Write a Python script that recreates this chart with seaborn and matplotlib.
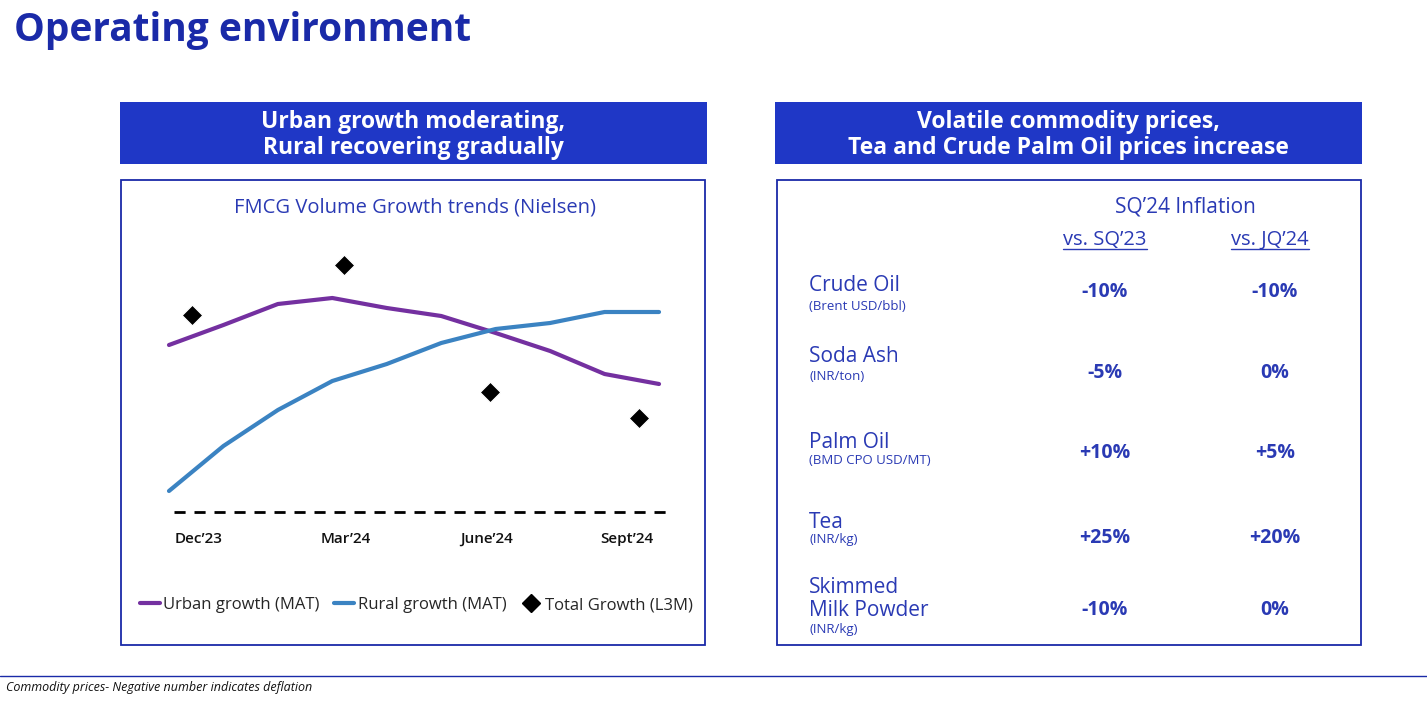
"""Operating environment slide: FMCG growth trends + commodity inflation table."""
import matplotlib
matplotlib.use('Agg')
import matplotlib.pyplot as plt
from matplotlib.patches import Rectangle
from matplotlib.lines import Line2D
import pandas as pd
import seaborn as sns

W, H = 1427, 709

# --- chart data (growth index; no axis scale shown) ---
period_idx = list(range(10))
urban_growth = [8.35, 9.35, 10.4, 10.7, 10.2, 9.8, 8.95, 8.05, 6.9, 6.4]
rural_growth = [1.05, 3.3, 5.1, 6.55, 7.4, 8.45, 9.15, 9.45, 10.0, 10.0]
total_x = [0.42, 3.21, 5.89, 8.64]
total_growth = [9.85, 12.35, 6.0, 4.7]
tick_pos = [0.55, 3.25, 5.83, 8.4]
tick_labels = ["Dec’23", "Mar’24", "June’24", "Sept’24"]

# --- table data ---
commodities = ["Crude Oil", "Soda Ash", "Palm Oil", "Tea", "Skimmed\nMilk Powder"]
units = ["(Brent USD/bbl)", "(INR/ton)", "(BMD CPO USD/MT)", "(INR/kg)", "(INR/kg)"]
vs_sq23 = ["-10%", "-5%", "+10%", "+25%", "-10%"]
vs_jq24 = ["-10%", "0%", "+5%", "+20%", "0%"]

BLUE = "#1f37c6"
DARK_BLUE = "#1a2aa8"
TXT_BLUE = "#2a3ab4"
PURPLE = "#7430a0"
RURAL = "#3b83c2"

sns.set_theme(style="white")
plt.rcParams['font.family'] = ['Open Sans', 'DejaVu Sans']


def fx(x):
    return x / W


def fy(y):
    return 1 - y / H


fig = plt.figure(figsize=(W / 100, H / 100), dpi=100)

# title
fig.text(fx(14), fy(31), "Operating environment", fontsize=28, fontweight="bold",
         color=DARK_BLUE, ha="left", va="center")

# header boxes
for x0, x1, txt in [(120, 707, "Urban growth moderating,\nRural recovering gradually"),
                    (775, 1362, "Volatile commodity prices,\nTea and Crude Palm Oil prices increase")]:
    fig.add_artist(Rectangle((fx(x0), fy(164)), fx(x1) - fx(x0), fy(102) - fy(164),
                             transform=fig.transFigure, facecolor=BLUE, edgecolor="none"))
    fig.text(fx((x0 + x1) / 2), fy(135), txt, fontsize=16.5, fontweight="bold", color="white",
             ha="center", va="center", linespacing=1.15)

# panel borders
for x0, x1 in [(121, 705), (777, 1361)]:
    fig.add_artist(Rectangle((fx(x0), fy(645)), fx(x1) - fx(x0), fy(180) - fy(645),
                             transform=fig.transFigure, facecolor="none", edgecolor=DARK_BLUE, lw=1.3))

# footer
fig.add_artist(Line2D([0, 1], [fy(676), fy(676)], transform=fig.transFigure, color=DARK_BLUE, lw=1))
fig.text(fx(6), fy(687), "Commodity prices- Negative number indicates deflation", fontsize=9,
         style="italic", color="#111111", ha="left", va="center")

# --- left chart ---
fig.text(fx(415), fy(207), "FMCG Volume Growth trends (Nielsen)", fontsize=14.5, color=TXT_BLUE,
         ha="center", va="center")

ax_l, ax_r, ax_t, ax_b = 150, 690, 240, 525
ax = fig.add_axes([fx(ax_l), fy(ax_b), fx(ax_r) - fx(ax_l), fy(ax_t) - fy(ax_b)])
df = pd.DataFrame({"period": period_idx * 2,
                   "growth": urban_growth + rural_growth,
                   "series": ["Urban growth (MAT)"] * 10 + ["Rural growth (MAT)"] * 10})
sns.lineplot(data=df, x="period", y="growth", hue="series",
             palette={"Urban growth (MAT)": PURPLE, "Rural growth (MAT)": RURAL},
             lw=3, ax=ax, legend=False)
sns.scatterplot(x=total_x, y=total_growth, marker="D", s=110, color="black", ax=ax, zorder=5)
ax.axhline(0, xmin=0.045, xmax=0.97, color="black", lw=2, ls=(0, (4, 3.2)))

ax.set_xlim(-19 / 54.5, 9 + 31 / 54.5)
ax.set_ylim((512 - ax_b) / 20, (512 - ax_t) / 20)
ax.set_xticks(tick_pos)
ax.set_xticklabels(tick_labels, fontsize=11, color="#111111", fontweight="semibold")
ax.tick_params(axis="x", length=0, pad=5)
ax.set_yticks([])
ax.set_xlabel("")
ax.set_ylabel("")
for s in ax.spines.values():
    s.set_visible(False)
ax.patch.set_alpha(0)

handles = [Line2D([], [], color=PURPLE, lw=3),
           Line2D([], [], color=RURAL, lw=3),
           Line2D([], [], color="black", marker="D", ls="none", markersize=9)]
fig.legend(handles, ["Urban growth (MAT)", "Rural growth (MAT)", "Total Growth (L3M)"],
           loc="center", bbox_to_anchor=(fx(416), fy(605)), ncol=3, frameon=False,
           fontsize=12, handlelength=1.2, handletextpad=0.2, columnspacing=0.9)

# --- right table ---
fig.text(fx(1185), fy(207), "SQ’24 Inflation", fontsize=15, color=TXT_BLUE, ha="center", va="center")
head_texts = []
for x, lab in [(1105, "vs. SQ’23"), (1270, "vs. JQ’24")]:
    head_texts.append(fig.text(fx(x), fy(240), lab, fontsize=14.5, color=TXT_BLUE,
                               ha="center", va="center"))

name_y = [285, 356, 443, 522, 599]
unit_y = [306, 377, 461, 539, 629]
val_y = [292, 373, 453, 538, 610]
for i in range(len(commodities)):
    fig.text(fx(809), fy(name_y[i]), commodities[i], fontsize=15, color=TXT_BLUE,
             ha="left", va="center", linespacing=1.15)
    fig.text(fx(809), fy(unit_y[i]), units[i], fontsize=9.5, color=TXT_BLUE, ha="left", va="center")
    fig.text(fx(1105), fy(val_y[i]), vs_sq23[i], fontsize=14, fontweight="bold", color=TXT_BLUE,
             ha="center", va="center")
    fig.text(fx(1275), fy(val_y[i]), vs_jq24[i], fontsize=14, fontweight="bold", color=TXT_BLUE,
             ha="center", va="center")

# underline the column headers
fig.canvas.draw()
inv = fig.transFigure.inverted()
for t in head_texts:
    bb = t.get_window_extent().transformed(inv)
    fig.add_artist(Line2D([bb.x0, bb.x1], [bb.y0 + 0.002, bb.y0 + 0.002],
                          transform=fig.transFigure, color=TXT_BLUE, lw=1))

fig.savefig("out.png", dpi=100)
